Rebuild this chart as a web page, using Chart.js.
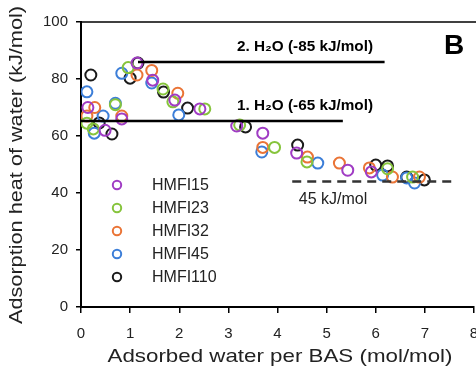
<!DOCTYPE html>
<html>
<head>
<meta charset="utf-8">
<script src="https://cdn.jsdelivr.net/npm/chart.js@4"></script>
<style>
  html, body { margin: 0; padding: 0; background: #fff; }
  #wrap { width: 476px; height: 372px; }
</style>
</head>
<body>
<div id="wrap"><canvas id="chart" width="476" height="372"></canvas></div>
<script>
// series names and colours
const seriesNames = ['HMFI15', 'HMFI23', 'HMFI32', 'HMFI45', 'HMFI110'];
const seriesColors = ['#a03cc4', '#86c43c', '#ea7436', '#3c7ed8', '#1a1a1a'];

// [water per BAS, heat kJ/mol]
const hmfi15 = [[0.14, 70], [0.49, 62], [0.83, 66], [1.14, 85.6], [1.46, 79.6], [1.91, 72.6],
  [2.42, 69.5], [3.17, 63.5], [3.7, 61], [4.39, 54], [5.43, 48], [5.91, 47.4]];
const hmfi23 = [[0.12, 64.5], [0.25, 62.5], [0.7, 71], [0.96, 84], [1.67, 76.5], [1.87, 72],
  [2.52, 69.5], [3.23, 63.9], [3.94, 56], [4.6, 50.9], [6.24, 48.5], [6.75, 45.6]];
const hmfi32 = [[0.28, 70], [0.12, 67], [0.83, 67], [1.14, 81.4], [1.44, 83], [1.97, 75],
  [3.7, 56], [4.61, 52.6], [5.26, 50.5], [5.87, 48.8], [6.34, 45.6], [6.89, 45.6]];
const hmfi45 = [[0.12, 75.5], [0.45, 67], [0.7, 71.5], [0.27, 61], [0.83, 82], [1.44, 78.6],
  [1.99, 67.4], [3.68, 54.4], [4.82, 50.5], [6.14, 46.3], [6.63, 45.3], [6.79, 43.5]];
const hmfi110 = [[0.2, 81.4], [0.37, 64.6], [0.63, 60.7], [1.0, 80.3], [1.16, 85.6], [1.68, 75.4],
  [2.17, 69.8], [3.35, 63.2], [4.41, 56.8], [6.0, 49.8], [6.24, 49.5], [6.63, 45.6], [6.99, 44.6]];
const seriesData = [hmfi15, hmfi23, hmfi32, hmfi45, hmfi110];

// horizontal guide lines: [xStart, xEnd, y]
const line85 = [1.16, 6.18, 86];
const line65 = [0, 5.33, 65.3];
const line45 = [4.3, 7.55, 44];

const xTicks = [0, 1, 2, 3, 4, 5, 6, 7, 8];
const yTicks = [0, 20, 40, 60, 80, 100];

const FONT = '"Liberation Sans", Arial, sans-serif';

const toPts = arr => arr.map(p => ({ x: p[0], y: p[1] }));
const seg = l => [{ x: l[0], y: l[2] }, { x: l[1], y: l[2] }];

const datasets = [
  { type: 'line', data: seg(line85), borderColor: '#000', borderWidth: 2.5, pointRadius: 0 },
  { type: 'line', data: seg(line65), borderColor: '#000', borderWidth: 2.5, pointRadius: 0 },
  { type: 'line', data: seg(line45), borderColor: '#333', borderWidth: 2.5, borderDash: [9, 6], pointRadius: 0 }
];
seriesData.forEach((d, i) => {
  datasets.push({
    type: 'scatter',
    label: seriesNames[i],
    data: toPts(d),
    borderColor: seriesColors[i],
    backgroundColor: 'rgba(0,0,0,0)',
    pointRadius: 5.5,
    pointBorderWidth: 2
  });
});

// text squeezed/stretched to a given width
function fitText(ctx, txt, x, y, w) {
  const m = ctx.measureText(txt).width;
  ctx.save();
  ctx.translate(x, y);
  ctx.scale(w / m, 1);
  ctx.fillText(txt, 0, 0);
  ctx.restore();
}

// the original picture is cropped right at x = 8, so stretch the plot to the edge
const stretchRight = {
  id: 'stretchRight',
  afterLayout(chart) {
    const x = chart.scales.x;
    const right = 474;
    chart.chartArea.right = right;
    chart.chartArea.width = right - chart.chartArea.left;
    x.right = right;
    x.width = right - x.left;
    x.configure();
  }
};

// texts, legend, frame and axis titles
const decor = {
  id: 'decor',
  afterDraw(chart) {
    const { ctx, chartArea: a } = chart;
    ctx.save();
    // top frame
    ctx.strokeStyle = '#000';
    ctx.lineWidth = 1.5;
    ctx.beginPath();
    ctx.moveTo(a.left, a.top);
    ctx.lineTo(476, a.top);
    ctx.stroke();

    ctx.fillStyle = '#000';
    ctx.textAlign = 'center';
    ctx.textBaseline = 'middle';
    ctx.font = 'bold 15px ' + FONT;
    fitText(ctx, '2. H\u2082O (-85 kJ/mol)', 305, 47, 136);
    fitText(ctx, '1. H\u2082O (-65 kJ/mol)', 305, 106, 136);
    ctx.font = '16px ' + FONT;
    ctx.fillStyle = '#222';
    ctx.fillText('45 kJ/mol', 333, 200);
    ctx.fillStyle = '#000';
    ctx.font = 'bold 28px ' + FONT;
    ctx.fillText('B', 454, 46);

    // legend
    ctx.textAlign = 'left';
    ctx.font = '16px ' + FONT;
    seriesNames.forEach((n, i) => {
      const y = 185 + i * 23;
      ctx.strokeStyle = seriesColors[i];
      ctx.lineWidth = 2;
      ctx.beginPath();
      ctx.arc(117, y, 4.2, 0, Math.PI * 2);
      ctx.stroke();
      ctx.fillStyle = '#222';
      ctx.fillText(n, 152, y + 1);
    });

    // axis titles
    ctx.fillStyle = '#222';
    ctx.textAlign = 'center';
    ctx.font = '19px ' + FONT;
    fitText(ctx, 'Adsorbed water per BAS (mol/mol)', 280, 357, 345);
    ctx.translate(17, 165);
    ctx.rotate(-Math.PI / 2);
    fitText(ctx, 'Adsorption heat of water (kJ/mol)', 0, 0, 318);
    ctx.restore();
  }
};

new Chart(document.getElementById('chart').getContext('2d'), {
  data: { datasets },
  options: {
    responsive: false,
    animation: false,
    events: [],
    layout: { padding: { left: 0, right: 2, top: 22, bottom: 0 } },
    plugins: { legend: { display: false }, tooltip: { enabled: false } },
    scales: {
      x: {
        type: 'linear', min: 0, max: 8,
        afterFit: s => { s.height = 65; },
        afterBuildTicks: s => { s.ticks = xTicks.map(v => ({ value: v })); },
        grid: { drawOnChartArea: false, tickLength: 6, color: '#000', lineWidth: 1.5 },
        border: { color: '#000', width: 2 },
        ticks: { padding: 12, color: '#222', font: { family: FONT, size: 15 } }
      },
      y: {
        type: 'linear', min: 0, max: 100,
        afterFit: s => { s.width = 81; },
        afterBuildTicks: s => { s.ticks = yTicks.map(v => ({ value: v })); },
        grid: { drawOnChartArea: false, tickLength: 5, color: '#000', lineWidth: 1.5 },
        border: { color: '#000', width: 2 },
        ticks: { padding: 8, color: '#222', font: { family: FONT, size: 15 } }
      }
    }
  },
  plugins: [stretchRight, decor]
});
</script>
</body>
</html>
